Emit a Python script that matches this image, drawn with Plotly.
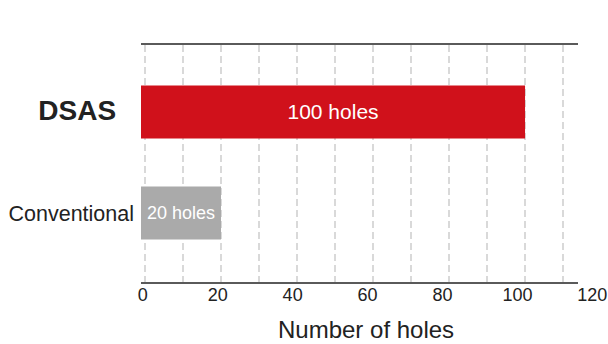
import plotly.graph_objects as go

# ---- data ----
categories = ["DSAS", "Conventional"]
holes = [100, 20]
bar_labels = ["100 holes", "20 holes"]
bar_colors = ["#D0111B", "#AAAAAA"]
x_tick_vals = [0, 20, 40, 60, 80, 100, 120]
x_tick_text = ["0", "20", "40", "60", "80", "100", "120"]
y_tick_text = ["<b><span style='font-size:28px'>DSAS</span></b>\u00a0\u00a0\u00a0", "Conventional"]
x_title = "Number of holes"

FONT = "Liberation Sans, Arial, sans-serif"
X_MIN, X_MAX = -1.05, 113.8      # grid axis range
X2_MIN, X2_MAX = -0.48, 122.05   # label axis range

fig = go.Figure()
fig.add_trace(go.Bar(
    y=categories,
    x=[v - X_MIN for v in holes],
    base=X_MIN,
    orientation="h",
    marker=dict(color=bar_colors, line=dict(width=0)),
    width=0.525,
    text=bar_labels,
    textposition="inside",
    insidetextanchor="middle",
    textfont=dict(color="white", size=[21, 18], family=FONT),
    hoverinfo="skip",
    xaxis="x", yaxis="y",
))

# invisible trace to create label axis
fig.add_trace(go.Scatter(x=[0], y=[categories[0]], mode="markers",
                         marker=dict(opacity=0), hoverinfo="skip",
                         xaxis="x2", yaxis="y", showlegend=False))

fig.update_layout(
    width=608, height=344,
    margin=dict(l=141, r=8, t=45, b=62, autoexpand=False),
    paper_bgcolor="white",
    plot_bgcolor="rgba(0,0,0,0)",
    showlegend=False,
    font=dict(family=FONT, color="#222222"),
    xaxis=dict(
        domain=[0, (577.5 - 141) / 459],
        range=[X_MIN, X_MAX],
        tick0=0, dtick=10,
        showgrid=True, gridcolor="#D9D9D9", gridwidth=1.5, griddash="7px,4px",
        showticklabels=False, ticks="",
        zeroline=False, automargin=False,
        showline=True, mirror=True, linecolor="#5A5A5A", linewidth=1.5,
        anchor="y",
    ),
    xaxis2=dict(
        domain=[0, 1],
        range=[X2_MIN, X2_MAX],
        tickvals=x_tick_vals, ticktext=x_tick_text,
        tickfont=dict(size=18, color="#222222"),
        showgrid=False, zeroline=False, showline=False, ticks="",
        anchor="y", side="bottom", automargin=False,
    ),
    yaxis=dict(
        type="category",
        categoryorder="array", categoryarray=categories[::-1],
        tickvals=categories, ticktext=y_tick_text,
        range=[-0.683, 1.663],
        showgrid=False, zeroline=False, showline=False, ticks="",
        tickfont=dict(size=21.5, color="#222222"),
        ticklabelstandoff=6, automargin=False,
    ),
    annotations=[dict(
        text=x_title, xref="paper", yref="paper",
        x=(365.8 - 141) / 459, y=0, xanchor="center", yanchor="top",
        yshift=-33, showarrow=False, borderpad=0,
        font=dict(size=24, color="#222222", family=FONT),
    )],
)

fig.write_html("out.html")
